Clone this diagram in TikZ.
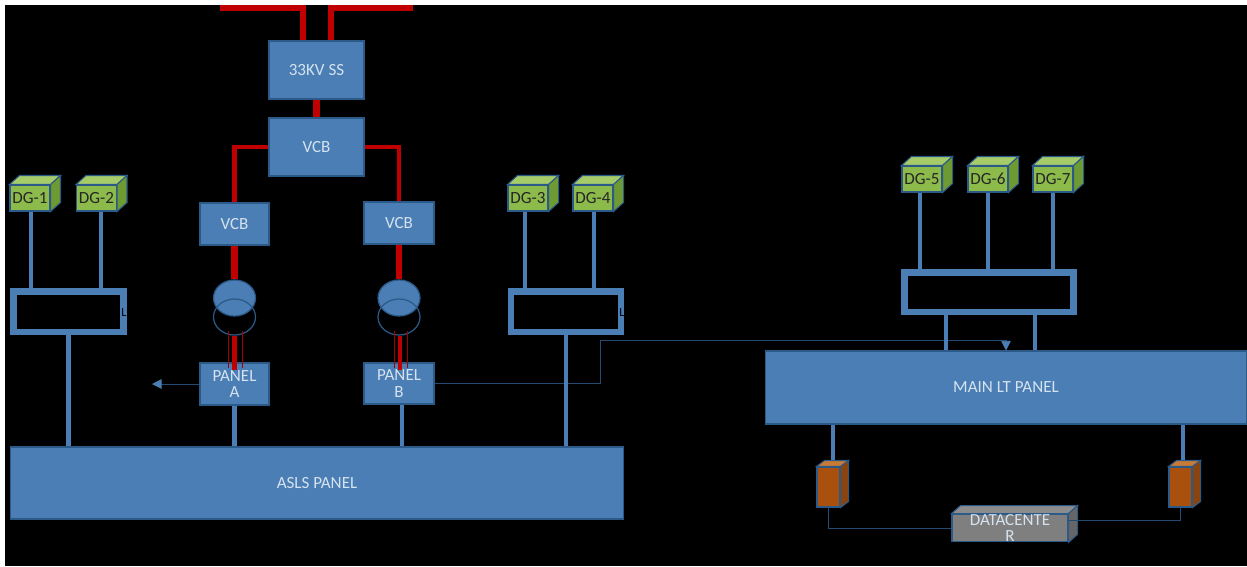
\documentclass[tikz,border=0pt]{standalone}
\usepackage{fontspec}
\setmainfont{Carlito}
\usepackage{xcolor}
\usetikzlibrary{arrows.meta,shapes.geometric}

\definecolor{panelblue}{HTML}{4A7EB4}
\definecolor{edgeblue}{HTML}{2C5A88}
\definecolor{signalblue}{HTML}{234A70}
\definecolor{feedred}{HTML}{C00000}
\definecolor{finered}{HTML}{A00000}
\definecolor{labelblue}{HTML}{D5E2EF}
\definecolor{gensetfront}{HTML}{8CBB4B}
\definecolor{gensettop}{HTML}{A6CC6A}
\definecolor{gensetside}{HTML}{6D9A32}
\definecolor{upsfront}{HTML}{A9500F}
\definecolor{upstop}{HTML}{C97A35}
\definecolor{upsside}{HTML}{8A4410}
\definecolor{dcfront}{HTML}{7F7F7F}
\definecolor{dctop}{HTML}{8C8C8C}
\definecolor{dcside}{HTML}{666666}

\tikzset{
  box/.style={shape=rectangle,draw=edgeblue,fill=panelblue,line width=0.6pt,inner sep=0pt,
    text=labelblue,font=\fontsize{9.7}{9.5}\selectfont,align=center},
  genset/.style={box,fill=gensetfront,text=black!85,minimum width=0.8cm,minimum height=0.52cm},
  ups/.style={box,fill=upsfront,minimum width=0.46cm,minimum height=0.8cm},
  bus/.style={shape=rectangle,draw=panelblue,line width=3.7pt,inner sep=0pt},
  feeder/.style={draw=panelblue,line width=2.8pt},
  hv/.style={draw=feedred,line width=3.9pt},
  hvbranch/.style={draw=feedred,line width=2.8pt},
  hvfine/.style={draw=finered,line width=0.5pt},
  signal/.style={draw=signalblue,line width=0.5pt},
  tiparrow/.style={-{Triangle[length=5.5pt,width=5.5pt,color=panelblue]}},
  winding/.style={shape=ellipse,minimum width=0.84cm,minimum height=0.72cm,inner sep=0pt,draw=edgeblue,line width=0.7pt},
}
% top and side of a cube, from the front face: name, offset, top colour, side colour
\newcommand{\cubefaces}[4]{
  \filldraw[fill=#3,draw=edgeblue,line width=0.6pt] (#1.north west) -- ++(#2) -- ([shift={(#2)}]#1.north east) -- (#1.north east) -- cycle;
  \filldraw[fill=#4,draw=edgeblue,line width=0.6pt] (#1.north east) -- ++(#2) -- ([shift={(#2)}]#1.south east) -- (#1.south east) -- cycle;
}

\begin{document}
\begin{tikzpicture}[x=0.02cm,y=-0.02cm]
\useasboundingbox (0,0) rectangle (1247,566);
\fill[black] (5,5) rectangle (1247,566);

\node[box,minimum width=1.9cm,minimum height=1.16cm] (ss) at (316.5,70) {33KV SS};
\node[box,minimum width=1.9cm,minimum height=1.16cm] (vcbtop) at (316.5,147) {VCB};
\node[box,minimum width=1.38cm,minimum height=0.84cm] (vcba) at (234.5,224) {VCB};
\node[box,minimum width=1.4cm,minimum height=0.84cm] (vcbb) at (399,223) {VCB};
\node[box,minimum width=1.38cm,minimum height=0.84cm] (panela) at (234.5,384) {PANEL\\A};
\node[box,minimum width=1.4cm,minimum height=0.82cm] (panelb) at (399,383.5) {PANEL\\B};
\node[box,minimum width=12.28cm,minimum height=1.44cm] (asls) at (317,483) {ASLS PANEL};
\node[box,minimum width=9.64cm,minimum height=1.46cm] (mainlt) at (1006,387.5) {MAIN LT PANEL};

\foreach \name/\xpos/\ypos/\txt in {dga/30/198/DG-1,dgb/96.5/198/DG-2,dgc/528/198/DG-3,dgd/593/198/DG-4,
    dge/922/179/DG-5,dgf/988/179/DG-6,dgg/1053/179/DG-7}{
  \node[genset] (\name) at (\xpos,\ypos) {\txt};
  \cubefaces{\name}{10,-9}{gensettop}{gensetside}
}

\node[bus,minimum width=2.21cm,minimum height=0.81cm] (busa) at (68.5,311.5) {};
\node[bus,minimum width=2.21cm,minimum height=0.81cm] (busb) at (566,311.5) {};
\node[bus,minimum width=3.39cm,minimum height=0.79cm] (busc) at (989,292) {};
\node[font=\fontsize{7}{7}\selectfont,text=black,inner sep=0pt] (taila) at (124,313) {L};
\node[font=\fontsize{7}{7}\selectfont,text=black,inner sep=0pt] (tailb) at (622,313) {L};

\node[ups] (upsa) at (828.5,487) {};
\node[ups] (upsb) at (1180.5,487) {};
\cubefaces{upsa}{8,-6}{upstop}{upsside}
\cubefaces{upsb}{8,-6}{upstop}{upsside}
\node[box,fill=dcfront,minimum width=2.32cm,minimum height=0.52cm] (dc) at (1010,528) {DATACENTE\\R};
\cubefaces{dc}{9,-8}{dctop}{dcside}

% transformers
\node[winding,fill=panelblue] (tra) at (234.5,298) {};
\node[winding] (lowa) at (234.5,317) {};
\node[winding,fill=panelblue] (trb) at (399,298) {};
\node[winding] (lowb) at (399,317) {};

% incoming supply
\coordinate (linea) at (220,8);
\coordinate (lineb) at (413,8);
\draw[hv] (linea) -| ([xshift=-0.27cm]ss.north);
\draw[hv] (lineb) -| ([xshift=0.29cm]ss.north);
\draw[hv] (ss.south) -- (vcbtop.north);
\draw[hvbranch] (vcbtop.west) -| (vcba.north);
\draw[hvbranch] (vcbtop.east) -| (vcbb.north);
\draw[hv] (vcba.south) -- (tra.north);
\draw[hv] (vcbb.south) -- (trb.north);
\draw[hvbranch] (lowa.south) -- ([yshift=-0.16cm]panela.north);
\draw[hvbranch] ([xshift=0.02cm]lowb.south) -- ([xshift=0.02cm,yshift=-0.16cm]panelb.north);
\foreach \shift in {-0.13,0.15}{
  \draw[hvfine] ([xshift=\shift cm,yshift=-0.12cm]panela.north) -- ++(0,-37);
}
\foreach \shift in {-0.1,0.16}{
  \draw[hvfine] ([xshift=\shift cm,yshift=-0.12cm]panelb.north) -- ++(0,-37);
}

% generator feeders
\draw[feeder] ([xshift=0.02cm]dga.south) -- ([xshift=0.02cm]dga.south |- busa.north);
\draw[feeder] ([xshift=0.09cm]dgb.south) -- ([xshift=0.09cm]dgb.south |- busa.north);
\draw[feeder] ([xshift=-0.06cm]dgc.south) -- ([xshift=-0.06cm]dgc.south |- busb.north);
\draw[feeder] ([xshift=0.02cm]dgd.south) -- ([xshift=0.02cm]dgd.south |- busb.north);
\draw[feeder] ([xshift=-0.04cm]dge.south) -- ([xshift=-0.04cm]dge.south |- busc.north);
\draw[feeder] (dgf.south) -- (dgf.south |- busc.north);
\draw[feeder] (dgg.south) -- (dgg.south |- busc.north);

% signal lines
\coordinate (tipa) at (152,384);
\coordinate (bend) at (600,340);
\draw[signal,tiparrow] (panela.west) -- (tipa);
\draw[signal,tiparrow] (panelb.east) -| (bend) -| (mainlt.north);
\draw[signal] (upsa.south) |- (dc.west);
\draw[signal] ([yshift=0.16cm]dc.east) -| (upsb.south);

% panel feeders
\draw[feeder] (busa.south) -- (busa.south |- asls.north);
\draw[feeder] (busb.south) -- (busb.south |- asls.north);
\draw[feeder] (panela.south) -- (panela.south |- asls.north);
\draw[feeder] ([xshift=0.06cm]panelb.south) -- ([xshift=0.06cm]panelb.south |- asls.north);
\draw[feeder] ([xshift=-0.86cm]busc.south) -- ([xshift=-0.86cm]busc.south |- mainlt.north);
\draw[feeder] ([xshift=0.92cm]busc.south) -- ([xshift=0.92cm]busc.south |- mainlt.north);
\draw[feeder] ([xshift=0.09cm,yshift=0.12cm]upsa.north) -- ([xshift=0.09cm]upsa.north |- mainlt.south);
\draw[feeder] ([xshift=0.05cm,yshift=0.12cm]upsb.north) -- ([xshift=0.05cm]upsb.north |- mainlt.south);
\end{tikzpicture}
\end{document}
